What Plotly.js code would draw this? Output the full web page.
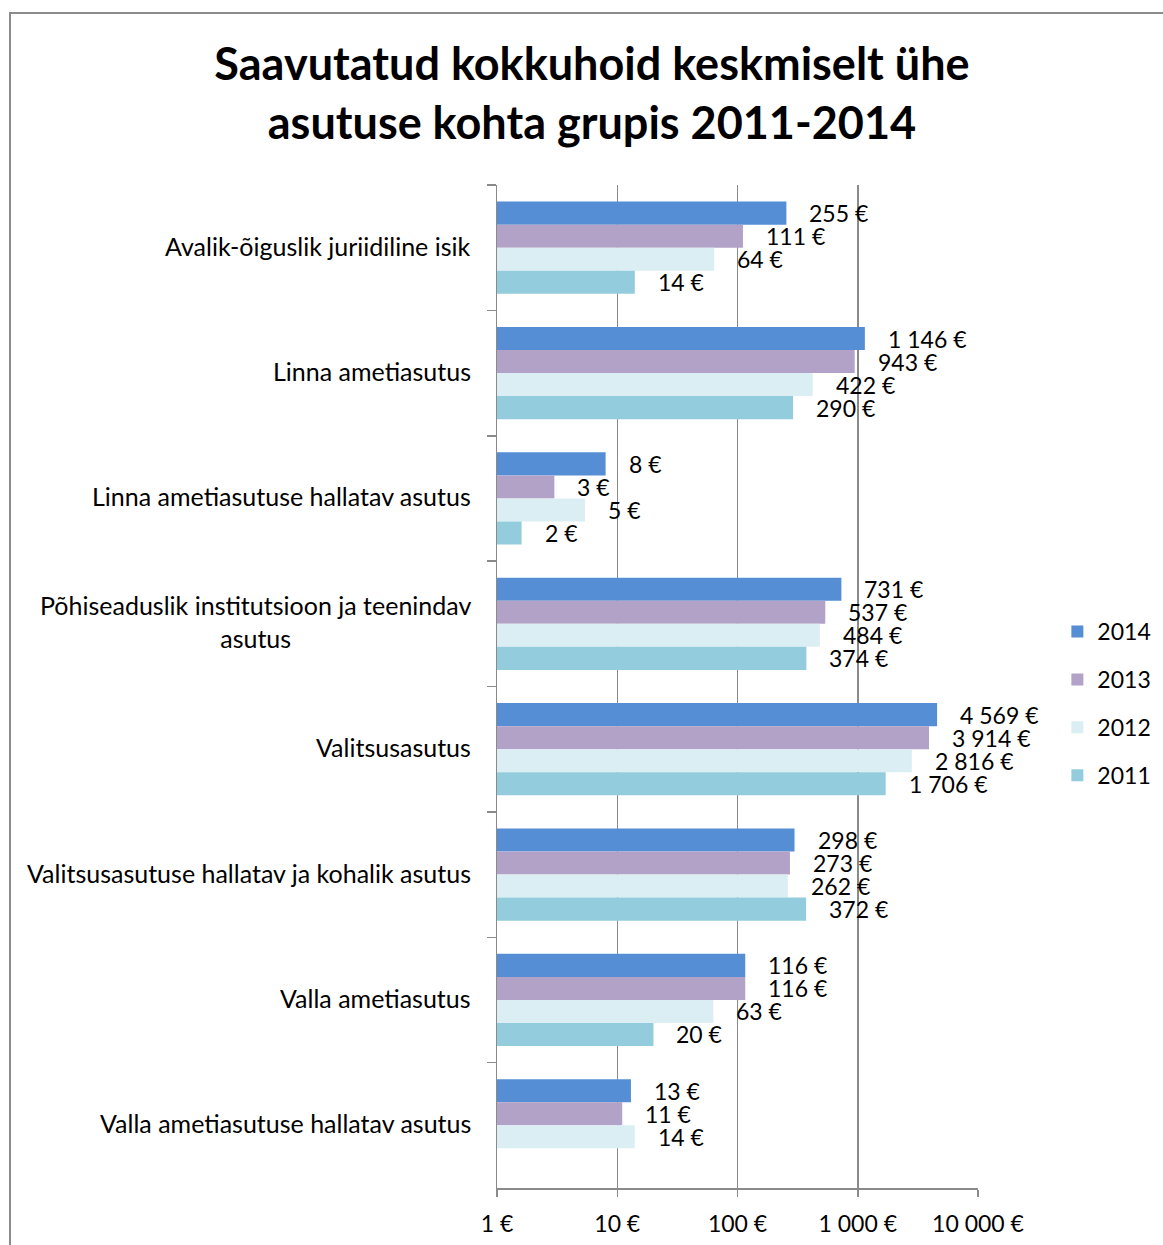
<!DOCTYPE html>
<html>
<head>
<meta charset="utf-8">
<script src="https://cdn.plot.ly/plotly-3.0.1.min.js"></script>
<style>
  html, body { margin: 0; padding: 0; background: #fff; overflow: hidden; }
  #wrap { position: relative; width: 1163px; height: 1245px; }
  #chart { width: 1163px; height: 1245px; }
  #frame { position: absolute; left: 9px; top: 12px; width: 1300px; height: 1400px;
           border-left: 2px solid #8c8c8c; border-top: 2px solid #8c8c8c; pointer-events: none; }
</style>
</head>
<body>
<div id="wrap">
  <div id="chart"></div>
  <div id="frame"></div>
</div>
<script>
// ---- data ----
const categories = [
  "Avalik-õiguslik juriidiline isik",
  "Linna ametiasutus",
  "Linna ametiasutuse hallatav asutus",
  "Põhiseaduslik institutsioon ja teenindav<br>asutus",
  "Valitsusasutus",
  "Valitsusasutuse hallatav ja kohalik asutus",
  "Valla ametiasutus",
  "Valla ametiasutuse hallatav asutus"
];
const years = ["2014", "2013", "2012", "2011"];
const values2014 = [255, 1146, 8, 731, 4569, 298, 116, 13];
const values2013 = [111, 943, 3, 537, 3914, 273, 116, 11];
const values2012 = [64, 422, 5.4, 484, 2816, 262, 63, 14];
const values2011 = [14, 290, 1.6, 374, 1706, 372, 20, null];
const tickValues = [1, 10, 100, 1000, 10000];
const tickLabels = ["1 €", "10 €", "100 €", "1 000 €", "10 000 €"];

const series = [values2014, values2013, values2012, values2011];
const colors = ["#558ED5", "#B3A2C7", "#DBEEF4", "#93CDDD"];

const FONT = "Lato, 'Open Sans', sans-serif";

function fmt(v) {
  const r = Math.round(v).toString();
  return r.replace(/\B(?=(\d{3})+(?!\d))/g, " ") + " €";
}

const traces = series.map((vals, i) => ({
  type: "bar",
  orientation: "h",
  name: years[i],
  legendgroup: years[i],
  x: vals,
  y: categories,
  marker: { color: colors[i], line: { width: 0 } },
  hoverinfo: "x+name"
}));

// data labels as annotations, placed via the axis scales
const barShift = [34.5, 11.5, -11.5, -34.5];
const annotations = [];
series.forEach((vals, i) => {
  vals.forEach((v, j) => {
    if (v === null || v === undefined) return;
    annotations.push({
      xref: "x", yref: "y",
      x: Math.log10(v), y: categories[j],
      text: fmt(v),
      showarrow: false,
      xanchor: "left", yanchor: "middle",
      xshift: 21, yshift: barShift[i],
      font: { family: FONT, size: 23, color: "#000" }
    });
  });
});
// category labels
categories.forEach(c => {
  annotations.push({
    xref: "paper", yref: "y",
    x: 0, y: c,
    text: c,
    showarrow: false,
    xanchor: "right", yanchor: "middle", align: "center",
    xshift: -24, yshift: 2,
    font: { family: FONT, size: 25, color: "#000" }
  });
});

const layout = {
  width: 1163, height: 1245,
  paper_bgcolor: "#fff", plot_bgcolor: "#fff",
  margin: { l: 497, r: 185, t: 185, b: 57, autoexpand: false },
  font: { family: FONT, size: 23, color: "#000" },
  title: {
    text: "<b>Saavutatud kokkuhoid keskmiselt ühe<br>asutuse kohta grupis 2011-2014</b>",
    font: { family: FONT, size: 45, color: "#000" },
    x: 0.509, xanchor: "center",
    xref: "container",
    y: 1 - 80 / 1245, yref: "container", yanchor: "top"
  },
  barmode: "group",
  bargap: 0.265,
  bargroupgap: 0,
  showlegend: true,
  legend: {
    x: 1.165, xanchor: "left",
    y: 0.483, yanchor: "middle",
    traceorder: "grouped",
    tracegroupgap: 15,
    font: { family: FONT, size: 23, color: "#000" },
    bgcolor: "rgba(0,0,0,0)"
  },
  xaxis: {
    type: "log",
    range: [0, 4],
    tickvals: tickValues,
    ticktext: tickLabels,
    showgrid: true, gridcolor: "#8a8a8a", gridwidth: 1.5,
    showline: true, linecolor: "#8a8a8a", linewidth: 1.5,
    ticks: "outside", ticklen: 7, tickcolor: "#8a8a8a", tickwidth: 1.5,
    ticklabelstandoff: 8,
    zeroline: false,
    fixedrange: true,
    tickfont: { family: FONT, size: 23, color: "#000" }
  },
  yaxis: {
    type: "category",
    autorange: "reversed",
    showticklabels: false,
    tickson: "boundaries",
    ticks: "outside", ticklen: 9, tickcolor: "#8a8a8a", tickwidth: 1.5,
    showline: true, linecolor: "#8a8a8a", linewidth: 1.5,
    showgrid: false,
    fixedrange: true
  },
  annotations: annotations
};

Plotly.newPlot("chart", traces, layout, { displayModeBar: false, staticPlot: true });
</script>
</body>
</html>
